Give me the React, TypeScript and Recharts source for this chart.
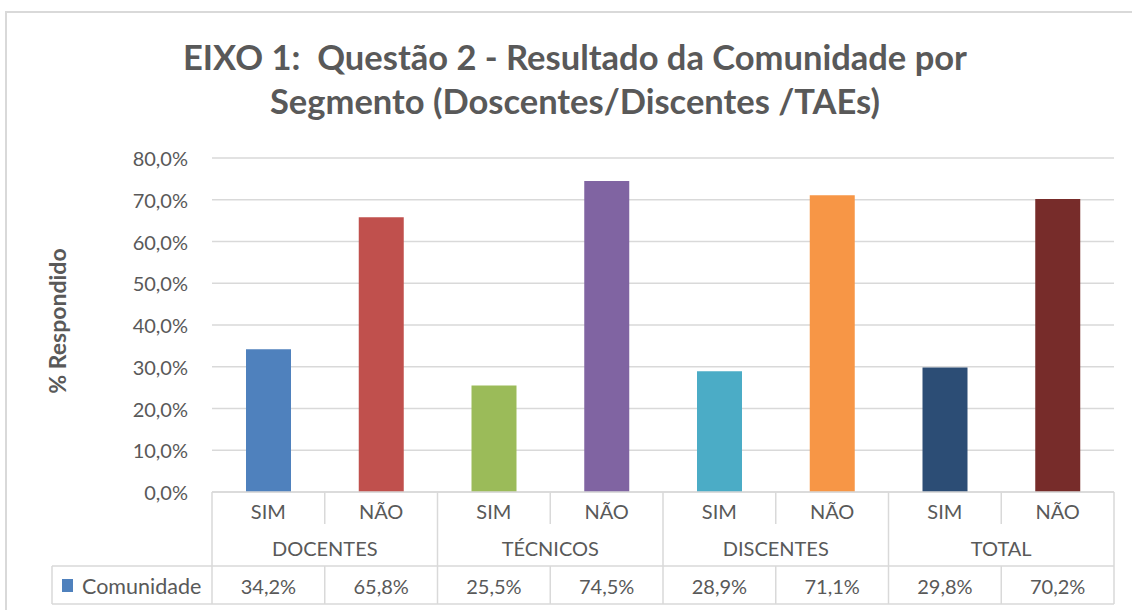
import React from 'react';
import { BarChart, Bar, XAxis, YAxis, CartesianGrid, Cell } from 'recharts';

const groups = ['DOCENTES', 'DOCENTES', 'TÉCNICOS', 'TÉCNICOS', 'DISCENTES', 'DISCENTES', 'TOTAL', 'TOTAL'];
const answers = ['SIM', 'NÃO', 'SIM', 'NÃO', 'SIM', 'NÃO', 'SIM', 'NÃO'];
const values = [34.2, 65.8, 25.5, 74.5, 28.9, 71.1, 29.8, 70.2];
const colors = ['#4F81BD', '#C0504D', '#9BBB59', '#8064A2', '#4BACC6', '#F79646', '#2C4D75', '#772C2A'];
const yTicks = [0, 10, 20, 30, 40, 50, 60, 70, 80];
const seriesName = 'Comunidade';
const titleLines = ['EIXO 1:  Questão 2 - Resultado da Comunidade por', 'Segmento (Doscentes/Discentes /TAEs)'];
const yLabel = '% Respondido';

const data = values.map((v, i) => ({ key: `${groups[i]}-${answers[i]}`, answer: answers[i], group: groups[i], value: v }));

const W = 1132;
const H = 610;
const M = { top: 158, right: 18, left: 128, bottom: 8 };
const Y_AXIS_W = 84;
const X_AXIS_H = 110;
const PLOT_LEFT = M.left + Y_AXIS_W;
const PLOT_RIGHT = W - M.right;
const PLOT_BOTTOM = H - M.bottom - X_AXIS_H;
const BAND = (PLOT_RIGHT - PLOT_LEFT) / values.length;
const ROW1 = PLOT_BOTTOM + 36;
const ROW2 = PLOT_BOTTOM + 74;
const ROW3 = PLOT_BOTTOM + 112;
const LEGEND_LEFT = 52;

const FONT = 'Lato, "Open Sans", sans-serif';
const TXT = '#595959';
const LINE = '#D9D9D9';

const fmt = (v: number) => v.toFixed(1).replace('.', ',') + '%';

const XTick = (props: any) => {
  const { x, index } = props;
  const i = index as number;
  const left = x - BAND / 2;
  const right = x + BAND / 2;
  const isGroupStart = i % 2 === 0;
  const els: React.ReactNode[] = [];
  els.push(<line key="v1" x1={left} x2={left} y1={PLOT_BOTTOM} y2={isGroupStart ? ROW2 : ROW1 - 4} stroke={LINE} strokeWidth={1.5} />);
  els.push(<line key="v3" x1={left} x2={left} y1={ROW2} y2={ROW3} stroke={LINE} strokeWidth={1.5} />);
  if (i === values.length - 1) {
    els.push(<line key="r1" x1={right} x2={right} y1={PLOT_BOTTOM} y2={ROW3} stroke={LINE} strokeWidth={1.5} />);
  }
  els.push(
    <text key="a" x={x} y={PLOT_BOTTOM + 19} textAnchor="middle" dominantBaseline="central" fontSize={20} fill={TXT} fontFamily={FONT}>
      {answers[i]}
    </text>
  );
  if (isGroupStart) {
    els.push(
      <text key="g" x={right} y={PLOT_BOTTOM + 56} textAnchor="middle" dominantBaseline="central" fontSize={20} fill={TXT} fontFamily={FONT}>
        {groups[i]}
      </text>
    );
  }
  els.push(
    <text key="v" x={x} y={PLOT_BOTTOM + 94} textAnchor="middle" dominantBaseline="central" fontSize={20} fill={TXT} fontFamily={FONT}>
      {fmt(values[i])}
    </text>
  );
  if (i === 0) {
    els.push(<line key="h2" x1={LEGEND_LEFT} x2={PLOT_RIGHT} y1={ROW2} y2={ROW2} stroke={LINE} strokeWidth={1.5} />);
    els.push(<line key="h3" x1={LEGEND_LEFT} x2={PLOT_RIGHT} y1={ROW3} y2={ROW3} stroke={LINE} strokeWidth={1.5} />);
    els.push(<line key="l3" x1={LEGEND_LEFT} x2={LEGEND_LEFT} y1={ROW2} y2={ROW3} stroke={LINE} strokeWidth={1.5} />);
    els.push(<rect key="sq" x={LEGEND_LEFT + 10} y={PLOT_BOTTOM + 87} width={11} height={13} fill={colors[0]} />);
    els.push(
      <text key="lt" x={LEGEND_LEFT + 30} y={PLOT_BOTTOM + 94} textAnchor="start" dominantBaseline="central" fontSize={21.5} fill={TXT} fontFamily={FONT}>
        {seriesName}
      </text>
    );
  }
  return <g>{els}</g>;
};

const YTick = (props: any) => {
  const { y, payload } = props;
  return (
    <text x={PLOT_LEFT - 24} y={y} textAnchor="end" dominantBaseline="central" fontSize={20} fill={TXT} fontFamily={FONT}>
      {fmt(payload.value)}
    </text>
  );
};

const YLabel = (props: any) => {
  const vb = props.viewBox || {};
  const cx = 57;
  const cy = (vb.y ?? M.top) + (vb.height ?? PLOT_BOTTOM - M.top) / 2 - 4;
  return (
    <text x={cx} y={cy} transform={`rotate(-90 ${cx} ${cy})`} textAnchor="middle" dominantBaseline="central" fontSize={23} fontWeight="bold" fill={TXT} fontFamily={FONT}>
      {yLabel}
    </text>
  );
};

export default function App() {
  return (
    <div style={{ position: 'absolute', left: 0, top: 0, width: W, height: H, background: '#fff', overflow: 'hidden' }}>
      <div style={{ position: 'absolute', left: 5, top: 11, width: W + 20, height: H + 20, border: `2px solid ${LINE}`, boxSizing: 'border-box' }} />
      <div style={{ position: 'absolute', left: 0, top: 35, width: 1150, textAlign: 'center', fontFamily: FONT, fontWeight: 'bold', fontSize: 34.5, lineHeight: '44px', color: TXT, whiteSpace: 'pre' }}>
        {titleLines.map((t) => (
          <div key={t}>{t}</div>
        ))}
      </div>
      <div style={{ position: 'absolute', left: 0, top: 0 }}>
        <BarChart width={W} height={H} data={data} margin={M} barCategoryGap={0}>
          <CartesianGrid vertical={false} stroke={LINE} strokeWidth={1.5} />
          <XAxis dataKey="key" height={X_AXIS_H} axisLine={{ stroke: LINE, strokeWidth: 1.5 }} tickLine={false} interval={0} tick={<XTick />} />
          <YAxis width={Y_AXIS_W} domain={[0, 80]} ticks={yTicks} axisLine={false} tickLine={false} tick={<YTick />} label={<YLabel />} />
          <Bar dataKey="value" barSize={45} isAnimationActive={false}>
            {data.map((d, i) => (
              <Cell key={d.key} fill={colors[i]} />
            ))}
          </Bar>
        </BarChart>
      </div>
    </div>
  );
}
